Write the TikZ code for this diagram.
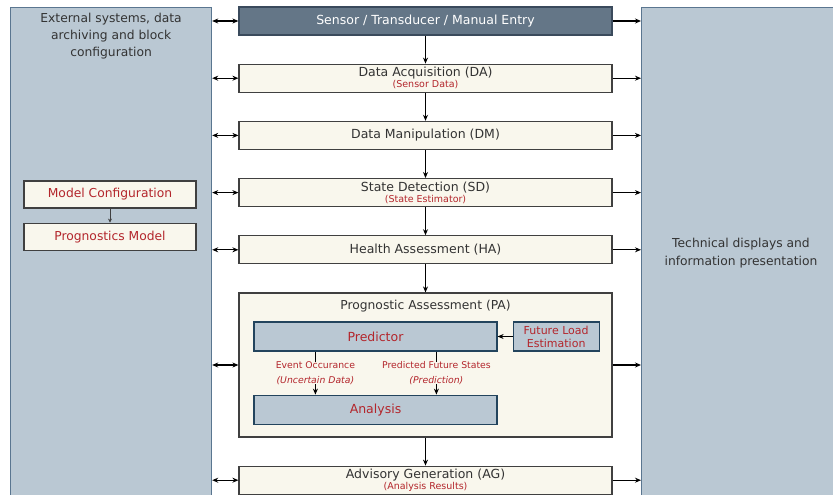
\documentclass[tikz,border=0pt]{standalone}
\usepackage{fontspec}
\setmainfont{DejaVu Sans}
\usetikzlibrary{arrows.meta,positioning}
\definecolor{Panel}{HTML}{BAC8D3}
\definecolor{PanelEdge}{HTML}{5A7690}
\definecolor{Slate}{HTML}{647687}
\definecolor{SlateEdge}{HTML}{3A4A5C}
\definecolor{Cream}{HTML}{F9F7ED}
\definecolor{CreamEdge}{HTML}{404040}
\definecolor{Navy}{HTML}{23445D}
\definecolor{Brick}{HTML}{B3262C}
\definecolor{Ink}{HTML}{333333}
\newcommand{\subnote}[1]{{\color{Brick}\fontsize{9.5}{10}\selectfont #1}}
\tikzset{
  panel/.style={
    draw=PanelEdge, line width=1.2pt, fill=Panel, anchor=north west,
    minimum height=520pt
  },
  paneltext/.style={
    align=center, text=Ink, font=\fontsize{12.3}{17}\selectfont, inner sep=0pt
  },
  stage/.style={
    draw=CreamEdge, line width=1.2pt, fill=Cream, text=Ink,
    minimum width=373pt, minimum height=28pt, inner sep=1pt, align=center,
    font=\fontsize{12.5}{13}\selectfont
  },
  source/.style={stage, draw=SlateEdge, fill=Slate, text=white},
  submodel/.style={
    draw=CreamEdge, line width=1.2pt, fill=Cream, text=Brick,
    minimum width=172pt, minimum height=27pt, font=\fontsize{12.3}{14}\selectfont
  },
  engine/.style={
    draw=Navy, line width=1.2pt, fill=Panel, text=Brick,
    minimum width=243pt, minimum height=29pt, align=center,
    font=\fontsize{12.5}{14}\selectfont
  },
  tag/.style={
    fill=Cream, text=Brick, align=center, inner sep=0pt,
    font=\fontsize{9.3}{14.5}\selectfont
  },
  flow/.style={-{Stealth[length=6pt,width=5pt]}, line width=1.1pt, draw=black},
  biflow/.style={{Stealth[length=6pt,width=5pt]}-{Stealth[length=6pt,width=5pt]}, line width=1.1pt, draw=black},
  smallflow/.style={-{Stealth[length=4pt,width=4pt]}, line width=0.9pt, draw=CreamEdge}
}

\begin{document}
\begin{tikzpicture}[x=1pt,y=-1pt,node distance=28pt]
  \useasboundingbox (0,0) rectangle (833,495);
  \clip (0,0) rectangle (833,495);
  % side panels
  \node[panel,minimum width=201pt] (ext) at (10,7) {};
  \node[panel,minimum width=210pt] (disp) at (641,7) {};
  \node[paneltext,below=6pt of ext.north] (exttitle) {External systems, data\\archiving and block\\configuration};
  \node[paneltext,font=\fontsize{12.3}{18}\selectfont] (disptitle) at (741,253) {Technical displays and\\information presentation};

  % main column
  \node[source] (sensor) at (425.5,21) {Sensor / Transducer / Manual Entry};
  \node[stage,below=of sensor] (da) {Data Acquisition (DA)\\[-2pt]\subnote{(Sensor Data)}};
  \node[stage,below=of da] (dm) {Data Manipulation (DM)};
  \node[stage,below=of dm] (sd) {State Detection (SD)\\[-2pt]\subnote{(State Estimator)}};
  \node[stage,below=of sd] (ha) {Health Assessment (HA)};
  \node[stage,below=of ha,minimum height=144pt] (pa) {};
  \node[stage,below=of pa] (ag) {Advisory Generation (AG)\\[-2pt]\subnote{(Analysis Results)}};
  \node[below=8pt of pa.north,inner sep=0pt,text=Ink,font=\fontsize{12.3}{14}\selectfont] (patitle) {Prognostic Assessment (PA)};

  % inside PA
  \node[engine,anchor=north west] (predictor) at ([xshift=15pt,yshift=-29pt]pa.north west) {Predictor};
  \node[engine,minimum width=86pt,right=15pt of predictor,font=\fontsize{11}{13}\selectfont] (load) {Future Load\\Estimation};
  \node[engine,below=43pt of predictor] (analysis) {Analysis};
  \draw[flow] (load) -- (predictor);
  \draw[flow] ([xshift=62pt]predictor.south west) -- node[tag] (event) {Event Occurance\\\textit{(Uncertain Data)}} ([xshift=62pt]analysis.north west);
  \draw[flow] ([xshift=183pt]predictor.south west) -- node[tag] (future) {Predicted Future States\\\textit{(Prediction)}} ([xshift=183pt]analysis.north west);

  % model boxes
  \node[submodel] (config) at (110,194.5) {Model Configuration};
  \node[submodel,below=14pt of config] (progmodel) {Prognostics Model};
  \draw[smallflow] (config) -- (progmodel);

  % stage flow and panel links
  \foreach \a/\b in {sensor/da,da/dm,dm/sd,sd/ha,ha/pa,pa/ag}
    \draw[flow] (\a) -- (\b);
  \foreach \s in {sensor,da,dm,sd,ha,pa,ag} {
    \draw[biflow] (\s.west) -- (\s.west -| ext.east);
    \draw[flow] (\s.east) -- (\s.east -| disp.west);
  }
\end{tikzpicture}
\end{document}
